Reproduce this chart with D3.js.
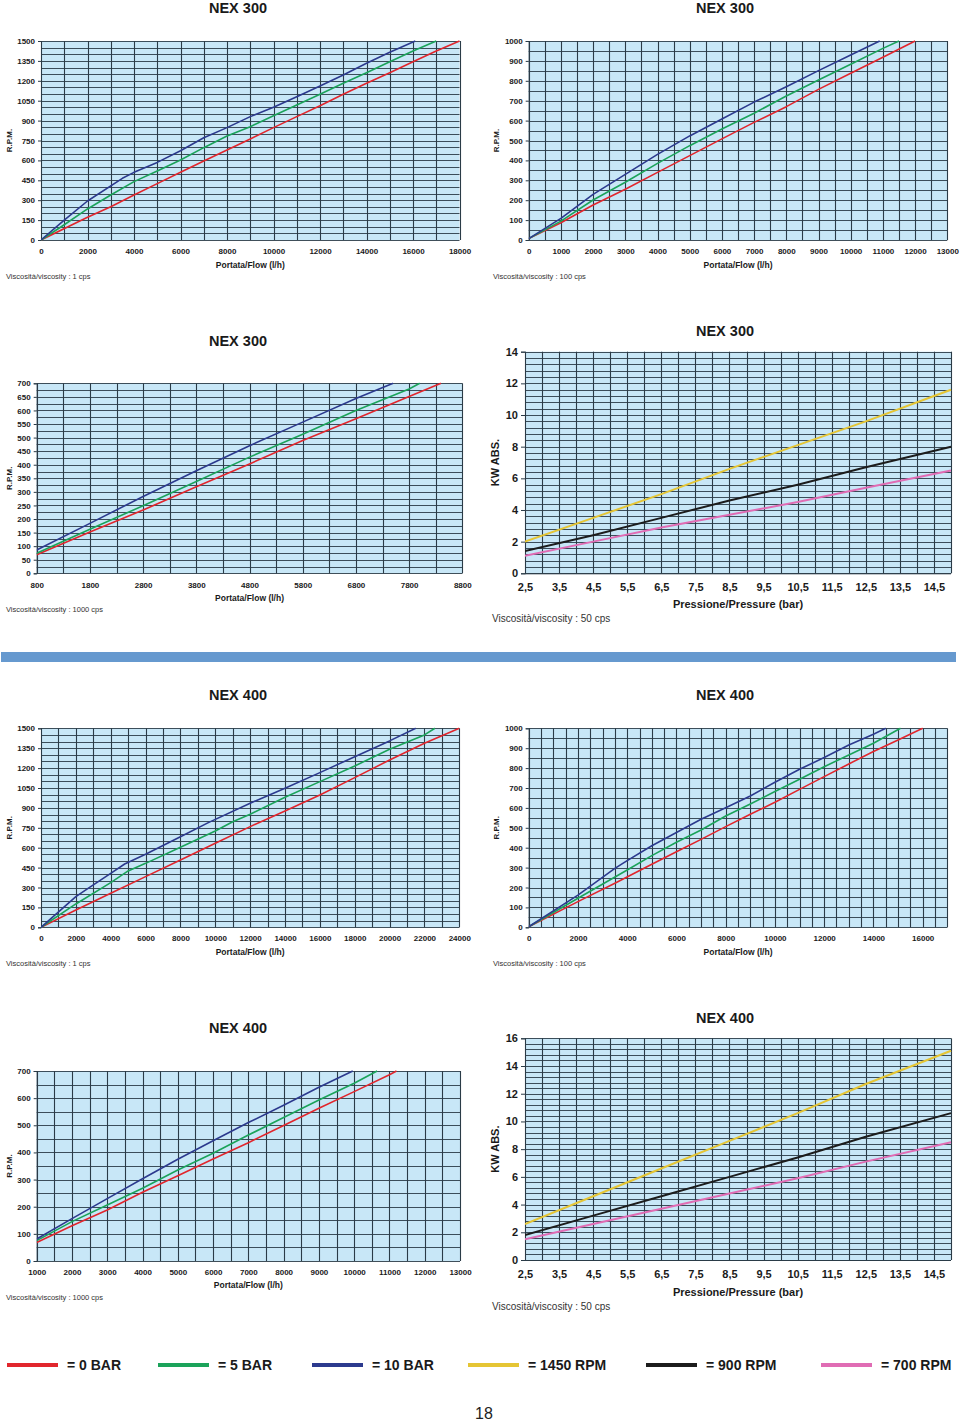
<!DOCTYPE html>
<html><head><meta charset="utf-8">
<script src="https://cdn.jsdelivr.net/npm/d3@7"></script>
<style>
body{margin:0;background:#fff;}
text{font-family:Arial,"Liberation Sans",Helvetica,sans-serif;}
</style></head>
<body><svg id="c" width="960" height="1421"></svg>
<script>
// ---------------- DATA ----------------
// NEX 300 – 1 cps (Flow l/h vs RPM)
const p1Red   = [[0,0],[2000,171],[3000,251],[4000,339],[5000,425],[6000,510],[7000,595],[8000,678],[9000,761],[10000,847],[11000,930],[12000,1012],[13000,1098],[14000,1181],[15000,1261],[16000,1344],[17000,1425],[18000,1500]];
const p1Green = [[0,0],[1000,115],[2000,234],[3000,339],[4000,440],[5000,520],[6000,603],[7000,696],[8000,784],[9000,854],[10000,937],[11000,1018],[12000,1098],[13000,1181],[14000,1261],[15000,1344],[16000,1425],[17000,1500]];
const p1Blue  = [[0,0],[1000,150],[2000,294],[3500,465],[4000,510],[5000,585],[6000,673],[7000,771],[8000,847],[9000,930],[10000,1000],[11000,1080],[12000,1161],[13000,1244],[14000,1332],[15000,1415],[16100,1500]];
const p1XTicks = [0,2000,4000,6000,8000,10000,12000,14000,16000,18000];
const p1YTicks = [0,150,300,450,600,750,900,1050,1200,1350,1500];

// NEX 300 – 100 cps
const p2Red   = [[0,7],[1000,87],[2000,176],[3000,255],[4000,340],[5000,424],[6000,508],[7000,591],[8000,670],[9000,757],[10000,838],[11000,918],[12000,1000]];
const p2Green = [[0,7],[1000,95],[2000,201],[3000,290],[4000,385],[5000,474],[6000,558],[7000,637],[8000,724],[9000,804],[10000,883],[11000,963],[11500,1000]];
const p2Blue  = [[0,7],[1000,109],[2000,229],[3000,330],[4000,430],[5000,523],[6000,608],[7000,693],[8000,770],[9000,851],[10000,930],[10900,1000]];
const p2XTicks = [0,1000,2000,3000,4000,5000,6000,7000,8000,9000,10000,11000,12000,13000];
const p2YTicks = [0,100,200,300,400,500,600,700,800,900,1000];

// NEX 300 – 1000 cps
const p3Red   = [[800,68],[1800,152],[2800,233],[3800,319],[4800,403],[5800,489],[6800,569],[7800,651],[8400,700]];
const p3Green = [[800,74],[1800,162],[2800,249],[3800,338],[4800,428],[5800,512],[6800,600],[7800,679],[8000,700]];
const p3Blue  = [[800,86],[1800,184],[2800,283],[3800,378],[4800,470],[5800,557],[6800,644],[7500,700]];
const p3XTicks = [800,1800,2800,3800,4800,5800,6800,7800,8800];
const p3YTicks = [0,50,100,150,200,250,300,350,400,450,500,550,600,650,700];

// NEX 300 – KW abs vs pressure, 50 cps
const p4Yellow = [[2.5,2.0],[4.5,3.5],[6.5,5.0],[8.5,6.6],[10.5,8.1],[12.5,9.6],[14.5,11.2],[15,11.6]];
const p4Black  = [[2.5,1.4],[4.5,2.4],[6.5,3.5],[8.5,4.6],[10.5,5.6],[12.5,6.7],[15,8.0]];
const p4Pink   = [[2.5,1.1],[4.5,2.0],[6.5,2.9],[8.5,3.7],[10.5,4.5],[12.5,5.4],[15,6.5]];
const kwXTicks = [2.5,3.5,4.5,5.5,6.5,7.5,8.5,9.5,10.5,11.5,12.5,13.5,14.5];
const p4YTicks = [0,2,4,6,8,10,12,14];

// NEX 400 – 1 cps
const p5Red   = [[0,0],[2000,131],[4000,256],[6000,382],[8000,508],[10000,633],[12000,759],[14000,877],[16000,997],[18000,1128],[20000,1261],[22000,1387],[24000,1500]];
const p5Green = [[0,0],[2000,176],[4000,337],[5000,425],[6000,482],[8000,603],[10000,726],[11000,796],[12000,852],[14000,980],[16000,1098],[18000,1216],[20000,1342],[22000,1450],[22600,1500]];
const p5Blue  = [[0,0],[2000,231],[2700,294],[4000,407],[4800,477],[6000,550],[8000,683],[9600,789],[12000,935],[14000,1048],[16000,1166],[18000,1286],[20000,1405],[21500,1500]];
const p5XTicks = [0,2000,4000,6000,8000,10000,12000,14000,16000,18000,20000,22000,24000];
const p5YTicks = [0,150,300,450,600,750,900,1050,1200,1350,1500];

// NEX 400 – 100 cps
const p6Red   = [[0,3],[2000,129],[3500,221],[5000,317],[6000,380],[7000,442],[8000,506],[9000,568],[10000,628],[11000,693],[12000,757],[13000,821],[14000,883],[15000,941],[16000,1000]];
const p6Green = [[0,3],[2000,146],[4000,288],[5000,360],[6000,427],[7000,489],[8000,559],[9000,620],[10000,682],[11000,744],[12000,807],[13000,866],[14000,925],[15100,1000]];
const p6Blue  = [[0,3],[2000,162],[3500,296],[4000,335],[5000,410],[6000,476],[7000,543],[8000,601],[9000,660],[10000,729],[11000,794],[12000,853],[13000,916],[14000,970],[14500,1000]];
const p6XTicks = [0,2000,4000,6000,8000,10000,12000,14000,16000];
const p6YTicks = [0,100,200,300,400,500,600,700,800,900,1000];

// NEX 400 – 1000 cps
const p7Red   = [[1000,68],[2000,130],[3000,188],[4000,253],[5000,314],[6000,376],[7000,436],[8000,499],[9000,563],[10000,624],[11000,686],[11200,700]];
const p7Green = [[1000,75],[2000,145],[3000,206],[4000,268],[5000,335],[6000,397],[7000,464],[8000,529],[9000,593],[10000,655],[10650,700]];
const p7Blue  = [[1000,81],[2000,156],[3000,230],[4000,303],[5000,375],[6000,443],[7000,510],[8000,574],[9000,640],[9960,700]];
const p7XTicks = [1000,2000,3000,4000,5000,6000,7000,8000,9000,10000,11000,12000,13000];
const p7YTicks = [0,100,200,300,400,500,600,700];

// NEX 400 – KW abs, 50 cps
const p8Yellow = [[2.5,2.6],[4.5,4.6],[6.5,6.6],[8.5,8.6],[10.5,10.6],[12.5,12.7],[15,15.1]];
const p8Black  = [[2.5,1.8],[4.5,3.2],[6.5,4.6],[8.5,6.0],[10.5,7.4],[12.5,8.9],[15,10.6]];
const p8Pink   = [[2.5,1.5],[4.5,2.6],[6.5,3.7],[8.5,4.8],[10.5,5.9],[12.5,7.1],[15,8.5]];
const p8YTicks = [0,2,4,6,8,10,12,14,16];

// Legend
const legendLabels = ["= 0 BAR","= 5 BAR","= 10 BAR","= 1450 RPM","= 900 RPM","= 700 RPM"];

// ---------------- STYLE ----------------
const C = {red:"#e1262d", green:"#1ba35a", blue:"#2c3a8e", yellow:"#e5c534", black:"#1c1c1c", pink:"#e06cb4"};
const plotBg = "#c8e7f7", gridCol = "#2a3b47";

const svg = d3.select("#c");
svg.append("rect").attr("width",960).attr("height",1421).attr("fill","#fff");

const panels = [
 {title:"NEX 300", tx:238, ty:8, x0:41, x1:459.5, y0:41, y1:240, xd:[0,18000], yd:[0,1500], xt:p1XTicks, yt:p1YTicks, xg:1000, yg:50, kw:false,
  series:[[p1Red,C.red],[p1Green,C.green],[p1Blue,C.blue]], xly:251, xtitY:265, ylx:9, visc:"Viscosità/viscosity : 1 cps", vx:6, vy:276},
 {title:"NEX 300", tx:725, ty:8, x0:528.7, x1:947.3, y0:41, y1:240, xd:[0,13000], yd:[0,1000], xt:p2XTicks, yt:p2YTicks, xg:500, yg:50, kw:false,
  series:[[p2Red,C.red],[p2Green,C.green],[p2Blue,C.blue]], xly:251, xtitY:265, ylx:496, visc:"Viscosità/viscosity : 100 cps", vx:493, vy:276},
 {title:"NEX 300", tx:238, ty:341, x0:36.7, x1:462.3, y0:383.3, y1:573.3, xd:[800,8800], yd:[0,700], xt:p3XTicks, yt:p3YTicks, xg:500, yg:25, kw:false,
  series:[[p3Red,C.red],[p3Green,C.green],[p3Blue,C.blue]], xly:585, xtitY:598, ylx:9, visc:"Viscosità/viscosity : 1000 cps", vx:6, vy:609},
 {title:"NEX 300", tx:725, ty:331, x0:525, x1:951, y0:351.7, y1:573.3, xd:[2.4,15], yd:[0,14], xt:kwXTicks, yt:p4YTicks, xg:0.5, yg:0.4, kw:true,
  series:[[p4Yellow,C.yellow],[p4Black,C.black],[p4Pink,C.pink]], xly:587, xtitY:604, ylx:495, visc:"Viscosità/viscosity : 50 cps", vx:492, vy:618},
 {title:"NEX 400", tx:238, ty:695, x0:41, x1:459.3, y0:728.3, y1:927.3, xd:[0,24000], yd:[0,1500], xt:p5XTicks, yt:p5YTicks, xg:1000, yg:50, kw:false,
  series:[[p5Red,C.red],[p5Green,C.green],[p5Blue,C.blue]], xly:938, xtitY:952, ylx:9, visc:"Viscosità/viscosity : 1 cps", vx:6, vy:963},
 {title:"NEX 400", tx:725, ty:695, x0:528.7, x1:947.3, y0:728.3, y1:927.3, xd:[0,17000], yd:[0,1000], xt:p6XTicks, yt:p6YTicks, xg:500, yg:50, kw:false,
  series:[[p6Red,C.red],[p6Green,C.green],[p6Blue,C.blue]], xly:938, xtitY:952, ylx:496, visc:"Viscosità/viscosity : 100 cps", vx:493, vy:963},
 {title:"NEX 400", tx:238, ty:1028, x0:36.7, x1:460, y0:1071, y1:1261, xd:[1000,13000], yd:[0,700], xt:p7XTicks, yt:p7YTicks, xg:500, yg:50, kw:false,
  series:[[p7Red,C.red],[p7Green,C.green],[p7Blue,C.blue]], xly:1272, xtitY:1285, ylx:9, visc:"Viscosità/viscosity : 1000 cps", vx:6, vy:1297},
 {title:"NEX 400", tx:725, ty:1018, x0:525, x1:951, y0:1038.3, y1:1260, xd:[2.4,15], yd:[0,16], xt:kwXTicks, yt:p8YTicks, xg:0.5, yg:0.4, kw:true,
  series:[[p8Yellow,C.yellow],[p8Black,C.black],[p8Pink,C.pink]], xly:1274, xtitY:1292, ylx:495, visc:"Viscosità/viscosity : 50 cps", vx:492, vy:1306}
];

panels.forEach(p => {
  const g = svg.append("g");
  // for KW panels the first grid line is at 2.5 (left edge)
  const xd = p.kw ? [2.5,15] : p.xd;
  const x = d3.scaleLinear().domain(xd).range([p.x0,p.x1]);
  const y = d3.scaleLinear().domain(p.yd).range([p.y1,p.y0]);
  const fs = p.kw ? 11 : 8;

  g.append("text").attr("x",p.tx).attr("y",p.ty).attr("text-anchor","middle").attr("dominant-baseline","central")
    .attr("font-size",14.5).attr("font-weight","bold").attr("fill","#1a1a1a").text(p.title);

  g.append("rect").attr("x",p.x0).attr("y",p.y0).attr("width",p.x1-p.x0).attr("height",p.y1-p.y0).attr("fill",plotBg);

  const eps = 1e-9;
  const hGrid = d3.range(0, Math.round((p.yd[1]-p.yd[0])/p.yg)+1).map(i => p.yd[0]+i*p.yg);
  const vGrid = d3.range(0, Math.round((xd[1]-xd[0])/p.xg)+1).map(i => xd[0]+i*p.xg);
  g.selectAll(null).data(hGrid).join("line")
    .attr("x1",p.x0).attr("x2",p.x1).attr("y1",d=>Math.round(y(d))+0.5).attr("y2",d=>Math.round(y(d))+0.5)
    .attr("stroke",gridCol).attr("stroke-width",0.9);
  g.selectAll(null).data(vGrid).join("line")
    .attr("y1",p.y0).attr("y2",p.y1).attr("x1",d=>Math.round(x(d))+0.5).attr("x2",d=>Math.round(x(d))+0.5)
    .attr("stroke",gridCol).attr("stroke-width",1.1);

  // axes
  const ya = d3.axisLeft(y).tickValues(p.yt).tickSize(p.kw?4:3).tickPadding(p.kw?3:3).tickFormat(d=>d);
  const ag = g.append("g").attr("transform",`translate(${p.x0},0)`).call(ya);
  ag.select(".domain").attr("stroke",gridCol);
  ag.selectAll(".tick line").attr("stroke",gridCol);
  ag.selectAll("text").attr("font-size",fs).attr("font-weight","bold").attr("fill","#1a1a1a")
    .attr("font-family","Arial,'Liberation Sans',sans-serif");

  const xa = d3.axisBottom(x).tickValues(p.xt).tickSize(0).tickPadding(0)
    .tickFormat(d => p.kw ? String(d).replace(".",",") : d);
  const bg = g.append("g").attr("transform",`translate(0,${p.xly})`).call(xa);
  bg.select(".domain").remove();
  bg.selectAll("text").attr("dy",null).attr("dominant-baseline","central").attr("font-size",fs).attr("font-weight","bold").attr("fill","#1a1a1a")
    .attr("font-family","Arial,'Liberation Sans',sans-serif");
  if (p.kw) {
    // bottom axis line + ticks
    g.append("line").attr("x1",p.x0).attr("x2",p.x1).attr("y1",p.y1+0.5).attr("y2",p.y1+0.5).attr("stroke",gridCol);
  }

  // axis titles
  g.append("text").attr("x",(p.x0+p.x1)/2).attr("y",p.xtitY).attr("text-anchor","middle").attr("dominant-baseline","central")
    .attr("font-size",p.kw?11:8.5).attr("font-weight","bold").attr("fill","#1a1a1a")
    .text(p.kw ? "Pressione/Pressure (bar)" : "Portata/Flow (l/h)");
  const yc = (p.y0+p.y1)/2 + (p.kw ? 0 : 0);
  g.append("text").attr("transform",`translate(${p.ylx},${yc}) rotate(-90)`).attr("text-anchor","middle").attr("dominant-baseline","central")
    .attr("font-size",p.kw?11:8).attr("font-weight","bold").attr("fill","#1a1a1a")
    .text(p.kw ? "KW ABS." : "R.P.M.");
  g.append("text").attr("x",p.vx).attr("y",p.vy).attr("dominant-baseline","central")
    .attr("font-size",p.kw?10:7.5).attr("fill","#333").text(p.visc);

  // series
  const line = d3.line().x(d=>x(d[0])).y(d=>y(d[1]));
  const clipId = "clip"+Math.round(p.x0)+"_"+Math.round(p.y0);
  svg.append("clipPath").attr("id",clipId).append("rect")
    .attr("x",p.x0).attr("y",p.y0-1).attr("width",p.x1-p.x0+1).attr("height",p.y1-p.y0+2);
  p.series.forEach(([data,col]) => {
    g.append("path").datum(data).attr("d",line).attr("fill","none").attr("stroke",col)
      .attr("stroke-width",p.kw?2:1.6).attr("stroke-linejoin","round").attr("clip-path",`url(#${clipId})`);
  });
});

// separator bar
svg.append("rect").attr("x",1).attr("y",652).attr("width",955).attr("height",10).attr("fill","#6699cf");

// legend
const legendColors = [C.red,C.green,C.blue,C.yellow,C.black,C.pink];
const legendX = [7,158,312,468,646,821];
const lg = svg.append("g");
legendLabels.forEach((lab,i) => {
  lg.append("line").attr("x1",legendX[i]).attr("x2",legendX[i]+51).attr("y1",1365).attr("y2",1365)
    .attr("stroke",legendColors[i]).attr("stroke-width",4);
  lg.append("text").attr("x",legendX[i]+60).attr("y",1365).attr("dominant-baseline","central")
    .attr("font-size",14).attr("font-weight","bold").attr("fill","#1a1a1a").text(lab);
});

// page number
svg.append("text").attr("x",484).attr("y",1413).attr("text-anchor","middle").attr("dominant-baseline","central")
  .attr("font-size",16).attr("fill","#222").text("18");
</script>
</body></html>
